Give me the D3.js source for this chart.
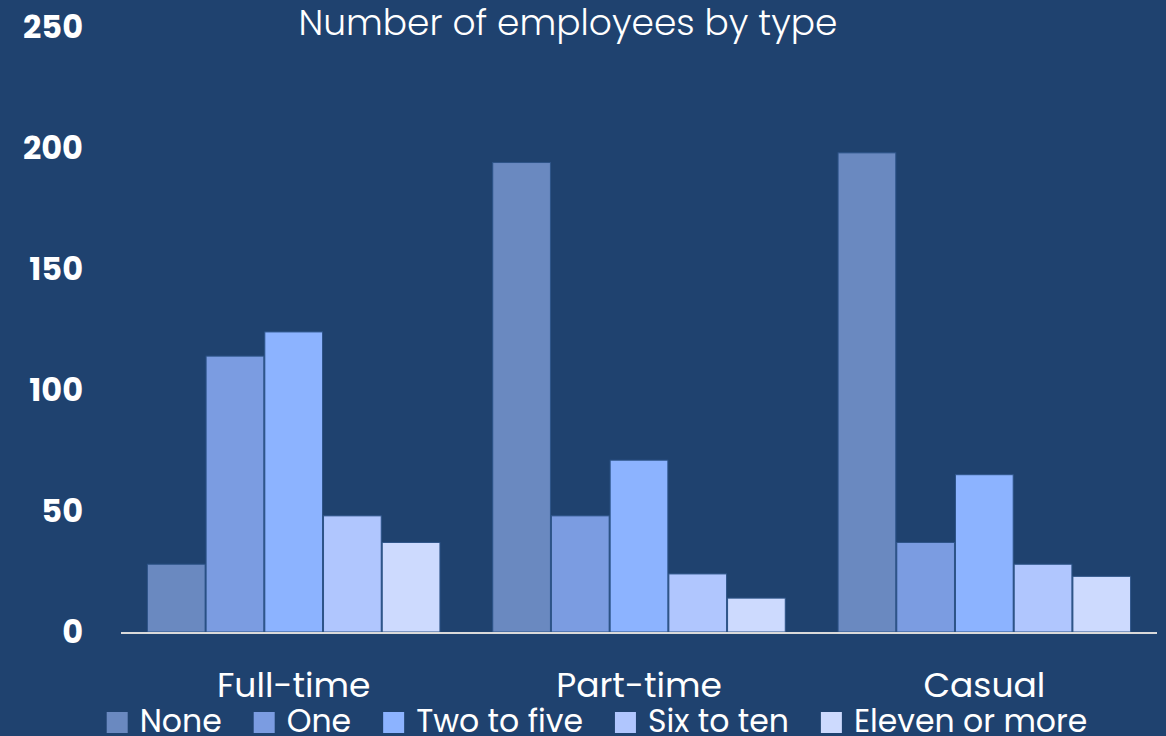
<!DOCTYPE html>
<html lang="en">
<head>
<meta charset="utf-8">
<title>Number of employees by type</title>
<script src="https://cdn.jsdelivr.net/npm/d3@7"></script>
<style>
  body { margin: 0; background: #1f426f; }
  svg { display: block; }
  text { font-family: "Poppins", "Open Sans", sans-serif; fill: #ffffff; }
  .axis-y text { font-weight: 700; font-size: 32px; }
  .cat text { font-size: 34.5px; }
  .legend text { font-size: 31.5px; }
</style>
</head>
<body>
<svg id="chart" width="1166" height="736"></svg>
<script>

// chart data
var categories = ["Full-time", "Part-time", "Casual"];
var series = ["None", "One", "Two to five", "Six to ten", "Eleven or more"];
var none     = [28, 194, 198];
var one      = [114, 48, 37];
var twoFive  = [124, 71, 65];
var sixTen   = [48, 24, 28];
var elevenUp = [37, 14, 23];
var yTicks = [0, 50, 100, 150, 200, 250];
var colors = ["#6a89c0", "#7b9ce1", "#8cb3ff", "#b0c6fe", "#cddafe"];

var values = [none, one, twoFive, sixTen, elevenUp];

var svg = d3.select("#chart"),
    margin = {top: 27, right: 9, bottom: 104, left: 121},
    width = +svg.attr("width") - margin.left - margin.right,
    height = +svg.attr("height") - margin.top - margin.bottom;

var x0 = d3.scaleBand().domain(categories).range([0, width])
    .paddingInner(0.15).paddingOuter(0.075);
var x1 = d3.scaleBand().domain(series).range([0, x0.bandwidth()]);
var y = d3.scaleLinear().domain([0, 250]).range([height, 0]);
var color = d3.scaleOrdinal().domain(series).range(colors);

var g = svg.append("g")
    .attr("transform", "translate(" + margin.left + "," + margin.top + ")");

// title
svg.append("text")
    .attr("x", 568)
    .attr("y", 35)
    .attr("text-anchor", "middle")
    .style("font-size", "36px")
    .style("font-weight", 300)
    .text("Number of employees by type");

// y axis labels, no line
var yAxis = g.append("g")
    .attr("class", "axis-y")
    .call(d3.axisLeft(y).tickValues(yTicks).tickSize(0).tickPadding(38));
yAxis.select(".domain").remove();
yAxis.selectAll("text").attr("dy", "0.34em");

// bars
var groups = g.selectAll(".grp")
    .data(categories)
    .enter().append("g")
      .attr("class", "grp")
      .attr("transform", function(d) { return "translate(" + x0(d) + ",0)"; });

groups.selectAll("rect")
    .data(function(c, i) {
      return series.map(function(s, j) { return {key: s, value: values[j][i]}; });
    })
    .enter().append("rect")
      .attr("x", function(d) { return x1(d.key) + 0.5; })
      .attr("y", function(d) { return y(d.value); })
      .attr("width", x1.bandwidth() - 1)
      .attr("height", function(d) { return height - y(d.value); })
      .attr("fill", function(d) { return color(d.key); })
      .attr("stroke", "#2d5488")
      .attr("stroke-width", 1);

// baseline
g.append("line")
    .attr("x1", 0).attr("x2", width)
    .attr("y1", height + 1).attr("y2", height + 1)
    .attr("stroke", "#dadada")
    .attr("stroke-width", 2);

// category labels
var xAxis = g.append("g")
    .attr("class", "cat")
    .attr("transform", "translate(0," + height + ")")
    .call(d3.axisBottom(x0).tickSize(0).tickPadding(41));
xAxis.select(".domain").remove();

// legend
var legend = svg.append("g").attr("class", "legend");
var items = legend.selectAll("g")
    .data(series)
    .enter().append("g");
items.append("rect")
    .attr("width", 21).attr("height", 21)
    .attr("y", -19)
    .attr("fill", function(d) { return color(d); });
items.append("text")
    .attr("x", 33)
    .attr("y", 0)
    .attr("dy", "0.02em")
    .text(function(d) { return d; });

var pos = 0;
items.each(function() {
  var w = 33 + d3.select(this).select("text").node().getComputedTextLength();
  d3.select(this).attr("transform", "translate(" + pos + ",0)");
  pos += w + 32;
});
var total = pos - 32;
legend.attr("transform", "translate(" + (597 - total / 2) + ",731)");

</script>
</body>
</html>
